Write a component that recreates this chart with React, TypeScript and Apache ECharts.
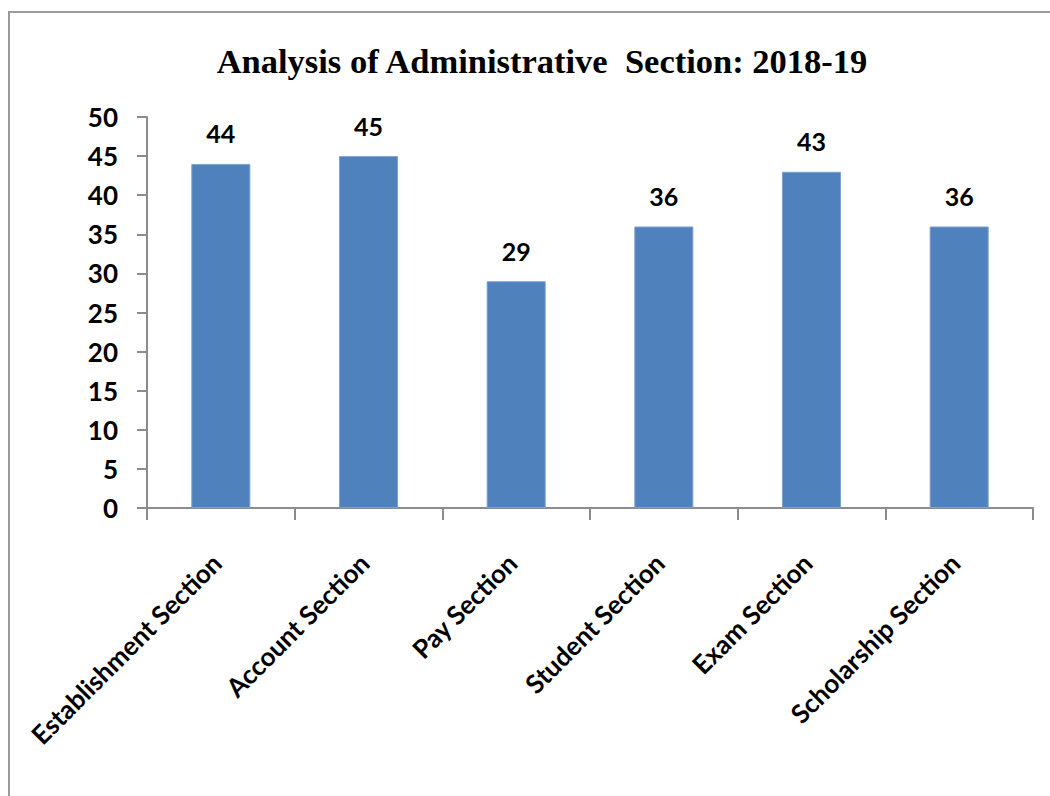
import React, { useEffect, useRef } from "react";
import * as echarts from "echarts";

const categories = [
  "Establishment Section",
  "Account Section",
  "Pay Section",
  "Student Section",
  "Exam Section",
  "Scholarship Section",
];
const values = [44, 45, 29, 36, 43, 36];
const titleText = "Analysis of Administrative  Section: 2018-19";
const yMin = 0;
const yMax = 50;
const yStep = 5;

export default function App() {
  const ref = useRef<HTMLDivElement>(null);
  useEffect(() => {
    document.body.style.margin = "0";
    const chart = echarts.init(ref.current!, undefined, { renderer: "svg" });
    const labelFont = "Lato, 'Open Sans', sans-serif";
    chart.setOption({
      animation: false,
      backgroundColor: "#ffffff",
      title: {
        text: titleText,
        left: 537,
        textAlign: "center",
        top: 38,
        textStyle: {
          fontFamily: "'Liberation Serif', 'Times New Roman', serif",
          fontWeight: "bold",
          fontSize: 34.5,
          color: "#000",
        },
      },
      graphic: [
        {
          type: "rect",
          shape: { x: 9, y: 12, width: 1200, height: 1000 },
          style: { fill: "none", stroke: "#9a9a9a", lineWidth: 2 },
          silent: true,
        },
      ],
      grid: { left: 147, right: 17, top: 117, bottom: 288, containLabel: false },
      xAxis: {
        type: "category",
        data: categories,
        axisLine: { show: true, lineStyle: { color: "#8c8c8c", width: 2 } },
        axisTick: { show: true, length: 12, lineStyle: { color: "#8c8c8c", width: 2 } },
        axisLabel: {
          rotate: 45,
          margin: 46,
          interval: 0,
          color: "#000",
          fontFamily: labelFont,
          fontWeight: "bold",
          fontSize: 26,
          padding: [0, 6, 0, 0],
        },
      },
      yAxis: {
        type: "value",
        min: yMin,
        max: yMax,
        interval: yStep,
        splitLine: { show: false },
        axisLine: { show: true, lineStyle: { color: "#8c8c8c", width: 2 } },
        axisTick: { show: true, length: 10, lineStyle: { color: "#8c8c8c", width: 2 } },
        axisLabel: {
          margin: 29,
          color: "#000",
          fontFamily: labelFont,
          fontWeight: "bold",
          fontSize: 26,
        },
      },
      series: [
        {
          type: "bar",
          data: values,
          barWidth: "40%",
          itemStyle: { color: "#4F81BD", borderColor: "#7fa3d0", borderWidth: 1 },
          label: {
            show: true,
            position: "top",
            distance: 18,
            color: "#000",
            fontFamily: labelFont,
            fontWeight: "bold",
            fontSize: 25,
          },
        },
      ],
    });
    return () => chart.dispose();
  }, []);
  return <div ref={ref} style={{ width: 1050, height: 796 }} />;
}
